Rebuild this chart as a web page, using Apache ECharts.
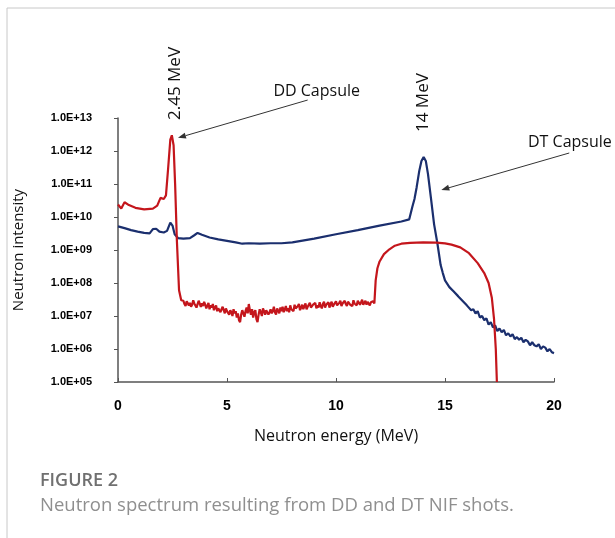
<!DOCTYPE html>
<html>
<head>
<meta charset="utf-8">
<script src="https://cdn.jsdelivr.net/npm/echarts@6/dist/echarts.min.js"></script>
<style>
  html, body { margin: 0; padding: 0; background: #fff; }
  #chart { width: 615px; height: 538px; }
</style>
</head>
<body>
<div id="chart"></div>
<script>
// DD capsule spectrum [energy MeV, intensity]
const ddSpectrum = [
  [0.0, 2.4e10], [0.15, 1.8e10], [0.3, 2.8e10], [0.5, 2.3e10], [0.8, 1.9e10],
  [1.2, 1.7e10], [1.6, 1.8e10], [1.8, 2.2e10], [1.95, 3.8e10], [2.1, 3.5e10],
  [2.2, 4.5e10], [2.3, 3e11], [2.4, 2.2e12], [2.47, 3.0e12], [2.55, 1.5e12],
  [2.62, 1e11], [2.7, 2e9], [2.8, 6e7], [2.9, 3e7],
  [3.00, 2.9e7], [3.05, 2.3e7], [3.10, 2.0e7], [3.15, 2.8e7], [3.20, 3.2e7],
  [3.25, 2.1e7], [3.30, 2.5e7], [3.35, 1.9e7], [3.40, 2.2e7], [3.45, 3.0e7],
  [3.50, 2.4e7], [3.55, 2.7e7], [3.60, 1.8e7], [3.65, 2.3e7], [3.70, 2.9e7],
  [3.75, 2.6e7], [3.80, 1.9e7], [3.85, 2.4e7], [3.90, 2.0e7], [3.95, 2.7e7],
  [4.00, 2.2e7], [4.05, 1.7e7], [4.10, 1.9e7], [4.15, 2.5e7], [4.20, 1.6e7],
  [4.25, 2.1e7], [4.30, 1.8e7], [4.35, 2.3e7], [4.40, 1.5e7], [4.45, 1.8e7],
  [4.50, 2.1e7], [4.55, 1.4e7], [4.60, 1.7e7], [4.65, 1.9e7], [4.70, 1.3e7],
  [4.75, 1.6e7], [4.80, 1.9e7], [4.85, 1.5e7], [4.90, 1.2e7], [4.95, 1.7e7],
  [5.00, 1.4e7], [5.05, 1.6e7], [5.10, 1.1e7], [5.15, 1.5e7], [5.20, 1.3e7],
  [5.25, 1.0e7], [5.30, 1.6e7], [5.35, 1.2e7], [5.40, 1.4e7], [5.45, 9e6],
  [5.50, 1.2e7], [5.55, 7.5e6], [5.60, 6.5e6], [5.65, 1.1e7], [5.70, 1.5e7],
  [5.75, 1.2e7], [5.80, 9.5e6], [5.85, 1.4e7], [5.90, 1.8e7], [5.95, 1.2e7],
  [6.00, 2.3e7], [6.05, 1.5e7], [6.10, 1.1e7], [6.15, 1.6e7], [6.20, 9e6],
  [6.25, 1.3e7], [6.30, 1.5e7], [6.35, 8e6], [6.40, 6.5e6], [6.45, 1.1e7],
  [6.50, 1.6e7], [6.55, 1.3e7], [6.60, 1.0e7], [6.65, 1.7e7], [6.70, 1.4e7],
  [6.75, 1.1e7], [6.80, 1.5e7], [6.85, 1.7e7], [6.90, 1.1e7], [6.95, 1.3e7],
  [7.00, 1.6e7], [7.05, 1.2e7], [7.10, 1.4e7], [7.15, 1.9e7], [7.20, 1.3e7],
  [7.25, 1.1e7], [7.30, 1.7e7], [7.35, 1.5e7], [7.40, 1.2e7], [7.45, 1.8e7],
  [7.50, 1.4e7], [7.55, 1.9e7], [7.60, 1.3e7], [7.65, 1.6e7], [7.70, 2.0e7],
  [7.75, 1.4e7], [7.80, 1.7e7], [7.85, 1.3e7], [7.90, 2.1e7], [7.95, 1.6e7],
  [8.00, 1.8e7], [8.05, 1.4e7], [8.10, 2.2e7], [8.15, 1.7e7], [8.20, 1.5e7],
  [8.25, 2.0e7], [8.30, 2.3e7], [8.35, 1.5e7], [8.40, 1.8e7], [8.45, 2.2e7],
  [8.50, 1.6e7], [8.55, 2.0e7], [8.60, 2.4e7], [8.65, 1.6e7], [8.70, 1.9e7],
  [8.75, 1.7e7], [8.80, 2.5e7], [8.85, 1.8e7], [8.90, 1.6e7], [8.95, 2.2e7],
  [9.00, 2.0e7], [9.05, 2.5e7], [9.10, 1.7e7], [9.15, 2.1e7], [9.20, 1.8e7],
  [9.25, 2.6e7], [9.30, 2.0e7], [9.35, 1.7e7], [9.40, 2.3e7], [9.45, 2.7e7],
  [9.50, 1.8e7], [9.55, 2.2e7], [9.60, 2.0e7], [9.65, 2.6e7], [9.70, 1.8e7],
  [9.75, 2.3e7], [9.80, 2.7e7], [9.85, 1.9e7], [9.90, 2.2e7], [9.95, 2.0e7],
  [10.00, 2.8e7], [10.05, 2.1e7], [10.10, 1.9e7], [10.15, 2.5e7], [10.20, 2.9e7],
  [10.25, 2.0e7], [10.30, 2.4e7], [10.35, 2.1e7], [10.40, 2.9e7], [10.45, 2.3e7],
  [10.50, 2.0e7], [10.55, 2.7e7], [10.60, 3.1e7], [10.65, 2.2e7], [10.70, 2.5e7],
  [10.75, 2.0e7], [10.80, 3.0e7], [10.85, 2.4e7], [10.90, 2.7e7], [10.95, 2.1e7],
  [11.00, 2.9e7], [11.05, 3.2e7], [11.10, 2.2e7], [11.15, 2.6e7], [11.20, 3.1e7],
  [11.25, 2.2e7], [11.30, 2.5e7], [11.35, 2.9e7], [11.40, 2.2e7], [11.45, 2.7e7],
  [11.50, 3.0e7], [11.55, 2.1e7], [11.60, 2.6e7], [11.65, 2.3e7], [11.70, 2.8e7],
  [11.76, 2.4e7], [11.82, 1.2e8], [11.9, 2.8e8], [12.0, 4.5e8], [12.2, 7.5e8],
  [12.45, 1.05e9], [12.7, 1.35e9], [13.0, 1.55e9], [13.4, 1.65e9], [14.0, 1.7e9],
  [14.6, 1.68e9], [15.0, 1.58e9], [15.3, 1.45e9], [15.7, 1.2e9], [16.1, 8e8],
  [16.5, 4e8], [16.8, 2e8], [17.0, 1e8], [17.15, 3.5e7], [17.25, 8e6],
  [17.33, 1e6], [17.38, 1e5]
];

// DT capsule spectrum [energy MeV, intensity]
const dtSpectrum = [
  [0.0, 5.2e9], [0.3, 4.6e9], [0.6, 4.0e9], [0.9, 3.6e9], [1.2, 3.3e9],
  [1.45, 3.2e9], [1.6, 4.3e9], [1.75, 4.4e9], [1.9, 3.6e9], [2.1, 3.4e9],
  [2.25, 3.8e9], [2.4, 6.8e9], [2.5, 5.5e9], [2.6, 3.0e9], [2.75, 2.3e9],
  [3.0, 2.2e9], [3.3, 2.3e9], [3.5, 2.8e9], [3.65, 3.3e9], [3.85, 2.9e9],
  [4.2, 2.4e9], [4.6, 2.1e9], [5.0, 1.9e9], [5.4, 1.7e9], [5.7, 1.55e9],
  [6.0, 1.6e9], [6.5, 1.55e9], [7.0, 1.6e9], [7.5, 1.6e9], [8.0, 1.7e9],
  [9.0, 2.2e9], [10.0, 3.0e9], [11.0, 4.0e9], [12.0, 5.5e9], [13.0, 7.3e9],
  [13.36, 8.5e9], [13.5, 2e10], [13.6, 3.5e10], [13.7, 8e10], [13.82, 2.5e11],
  [13.92, 5e11], [14.02, 6.6e11], [14.12, 5e11], [14.22, 2e11], [14.35, 4e10],
  [14.5, 6e9], [14.65, 1.6e9], [14.8, 3.5e8], [14.9, 2e8], [15.0, 1.2e8],
  [15.2, 7.5e7], [15.4, 5.5e7], [15.6, 4e7], [15.8, 2.9e7], [16.0, 2.1e7],
  [16.2, 1.5e7], [16.3, 1.6e7], [16.4, 1.2e7], [16.5, 1.4e7], [16.6, 9e6],
  [16.7, 1.0e7], [16.8, 7.5e6], [16.9, 8.5e6], [17.0, 5.5e6], [17.1, 6.5e6],
  [17.2, 4.5e6], [17.3, 5.2e6], [17.4, 3.5e6], [17.5, 4.2e6], [17.6, 3.2e6],
  [17.7, 3.8e6], [17.8, 2.6e6], [17.9, 3.0e6], [18.0, 2.4e6], [18.1, 2.8e6],
  [18.2, 2.0e6], [18.3, 2.3e6], [18.4, 1.9e6], [18.5, 2.2e6], [18.6, 1.6e6],
  [18.7, 1.9e6], [18.8, 1.7e6], [18.9, 1.3e6], [19.0, 1.6e6], [19.1, 1.3e6],
  [19.2, 1.2e6], [19.3, 1.4e6], [19.4, 1.0e6], [19.5, 1.2e6], [19.6, 1.1e6],
  [19.7, 8.5e5], [19.8, 1.0e6], [19.9, 8.0e5], [20.0, 7.5e5]
];

const xTicks = [0, 5, 10, 15, 20];

// annotation arrows in data coords: [tail, tip]
const ddArrow = [[8.7, 3.5e13], [2.75, 2.5e12]];
const dtArrow = [[20.7, 8.7e11], [14.83, 6.6e10]];

const chart = echarts.init(document.getElementById('chart'));

const option = {
  animation: false,
  grid: { left: 118, right: 61, top: 118, bottom: 156 },
  xAxis: {
    type: 'value',
    min: xTicks[0],
    max: xTicks[xTicks.length - 1],
    interval: 5,
    name: 'Neutron energy (MeV)',
    nameLocation: 'middle',
    nameGap: 46,
    nameTextStyle: { fontFamily: 'Open Sans', fontSize: 16, color: '#111' },
    axisLine: { lineStyle: { color: '#555', width: 1.5 } },
    axisTick: { inside: true, length: 4, lineStyle: { color: '#555' } },
    axisLabel: { margin: 17, fontFamily: 'Liberation Sans', fontWeight: 'bold', fontSize: 14, color: '#000' },
    splitLine: { show: false }
  },
  yAxis: {
    type: 'log',
    logBase: 10,
    min: 1e5,
    max: 1e13,
    name: 'Neutron intensity',
    nameLocation: 'middle',
    nameGap: 92,
    nameTextStyle: { fontFamily: 'Open Sans', fontSize: 15, color: '#111' },
    axisLine: { show: true, lineStyle: { color: '#555', width: 1.5 } },
    axisTick: { show: true, length: 4, lineStyle: { color: '#555' } },
    axisLabel: {
      margin: 26,
      fontFamily: 'Liberation Sans', fontWeight: 'bold', fontSize: 11, color: '#000',
      formatter: function (v) {
        const e = Math.round(Math.log10(v))
        return '1.0E+' + (e < 10 ? '0' + e : e)
      }
    },
    splitLine: { show: false }
  },
  series: [
    {
      name: 'DD Capsule',
      type: 'line',
      data: ddSpectrum,
      showSymbol: false,
      lineStyle: { color: '#c4161c', width: 2.2 },
      z: 3
    },
    {
      name: 'DT Capsule',
      type: 'line',
      data: dtSpectrum,
      showSymbol: false,
      lineStyle: { color: '#1b2f6e', width: 2.2 },
      z: 2
    }
  ]
};
chart.setOption(option);

function arrow(pair) {
  const a = chart.convertToPixel({ gridIndex: 0 }, pair[0]);
  const b = chart.convertToPixel({ gridIndex: 0 }, pair[1]);
  const dx = b[0] - a[0], dy = b[1] - a[1];
  const len = Math.sqrt(dx * dx + dy * dy);
  const ux = dx / len, uy = dy / len;
  const hl = 8, hw = 3;
  const bx = b[0] - ux * hl, by = b[1] - uy * hl;
  return [
    { type: 'line', shape: { x1: a[0], y1: a[1], x2: bx, y2: by }, style: { stroke: '#333', lineWidth: 1 } },
    {
      type: 'polygon',
      shape: { points: [[b[0], b[1]], [bx - uy * hw, by + ux * hw], [bx + uy * hw, by - ux * hw]] },
      style: { fill: '#333' }
    }
  ];
}

const textFont = 'Open Sans';
chart.setOption({
  graphic: [
    { type: 'line', shape: { x1: 7, y1: 8, x2: 615, y2: 8 }, style: { stroke: '#c8c8c8', lineWidth: 1 } },
    { type: 'line', shape: { x1: 7, y1: 8, x2: 7, y2: 538 }, style: { stroke: '#c8c8c8', lineWidth: 1 } },
    { type: 'text', x: 175, y: 120, rotation: Math.PI / 2,
      style: { text: '2.45 MeV', fontFamily: textFont, fontSize: 17, fill: '#111', align: 'left', verticalAlign: 'middle' } },
    { type: 'text', x: 423, y: 132, rotation: Math.PI / 2,
      style: { text: '14 MeV', fontFamily: textFont, fontSize: 17, fill: '#111', align: 'left', verticalAlign: 'middle' } },
    { type: 'text', x: 360, y: 91,
      style: { text: 'DD Capsule', fontFamily: textFont, fontSize: 16, fill: '#111', align: 'right', verticalAlign: 'middle' } },
    { type: 'text', x: 528, y: 142,
      style: { text: 'DT Capsule', fontFamily: textFont, fontSize: 16, fill: '#111', align: 'left', verticalAlign: 'middle' } },
    { type: 'text', x: 40, y: 481,
      style: { text: 'FIGURE 2', fontFamily: textFont, fontSize: 18, fontWeight: 600, fill: '#707070', align: 'left', verticalAlign: 'middle' } },
    { type: 'text', x: 40, y: 506,
      style: { text: 'Neutron spectrum resulting from DD and DT NIF shots.', fontFamily: textFont, fontSize: 18.5, fill: '#8f8f8f', align: 'left', verticalAlign: 'middle' } }
  ].concat(arrow(ddArrow), arrow(dtArrow))
});
</script>
</body>
</html>
